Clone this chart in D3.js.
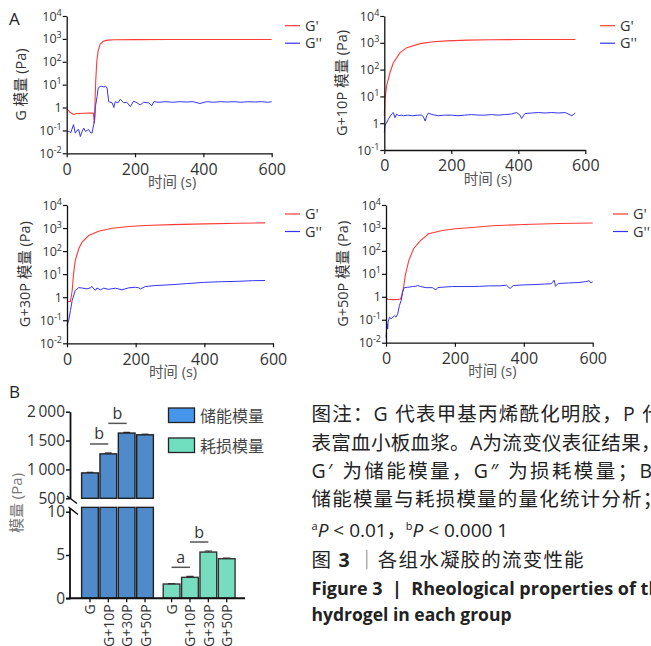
<!DOCTYPE html>
<html>
<head>
<meta charset="utf-8">
<script src="https://cdn.jsdelivr.net/npm/d3@7"></script>
<style>
  body { margin: 0; background: #fff; }
  svg { display: block; }
  text { font-family: "Open Sans", "Noto Sans CJK SC", sans-serif; }
</style>
</head>
<body>
<svg id="fig" width="651" height="646"></svg>
<script>
// ---- 数据：流变时间扫描 (t 秒, 模量 Pa) ----
const gStorage = [[0,0.85],[5,0.75],[10,0.62],[20,0.5],[30,0.55],[50,0.56],[70,0.57],[78,0.57],[81,0.2],[83,2],[85,15],[88,100],[92,300],[98,600],[108,800],[120,880],[140,920],[200,930],[300,940],[400,940],[500,940],[600,940]];
const gLoss = [[0,0.09],[6,0.09],[12,0.08],[20,0.18],[25,0.076],[30,0.1],[35,0.11],[40,0.054],[45,0.09],[50,0.126],[55,0.09],[60,0.1],[64,0.11],[70,0.08],[74,0.076],[79,0.18],[82,0.3],[84,1.1],[89,3],[92,7],[98,8.3],[103,8.5],[108,8],[113,8.3],[118,7.5],[123,1.8],[133,1.6],[138,1.0],[142,1.8],[150,1.6],[157,2.3],[167,1.6],[176,1.7],[186,1.1],[196,1.9],[206,1.6],[215,1.3],[225,1.7],[240,1.6],[249,1.2],[255,1.8],[270,1.7],[290,1.8],[310,1.7],[330,1.8],[350,1.75],[370,1.8],[390,1.5],[410,1.8],[430,1.7],[450,1.8],[470,1.75],[490,1.8],[510,1.7],[530,1.8],[550,1.75],[570,1.8],[590,1.7],[600,1.8]];

const g10Storage = [[0,1.9],[2,8],[7,25],[17,78],[27,180],[47,430],[67,660],[107,930],[146,1100],[186,1180],[250,1260],[315,1300],[400,1320],[500,1330],[570,1330]];
const g10Loss = [[0,0.45],[2,0.8],[12,1.4],[22,2.2],[27,2.5],[32,1.6],[37,2.2],[42,1.9],[52,2.0],[57,1.9],[70,2.0],[85,1.9],[100,2.0],[112,2.0],[117,1.7],[122,1.2],[127,1.9],[132,2.4],[142,2.1],[162,1.9],[180,2.0],[200,2.0],[220,1.9],[240,2.0],[260,2.1],[280,2.0],[300,2.0],[320,2.1],[340,2.0],[360,2.1],[380,2.2],[395,2.5],[405,2.0],[410,1.5],[420,2.3],[440,2.4],[460,2.5],[480,2.4],[500,2.5],[520,2.4],[540,2.5],[560,1.9],[570,2.4]];

const g30Storage = [[2,0.65],[10,0.65],[15,1.9],[19,10],[24,39],[34,126],[44,245],[63,475],[92,730],[131,980],[180,1170],[228,1290],[306,1410],[400,1520],[500,1620],[577,1680]];
const g30Loss = [[0,0.06],[5,0.1],[10,0.26],[15,0.72],[24,1.95],[34,2.6],[44,2.5],[58,2.3],[68,2.55],[73,2.9],[78,2.3],[83,2.0],[87,2.5],[97,2.1],[107,2.45],[121,2.2],[141,2.45],[160,2.1],[180,2.55],[199,2.7],[209,2.55],[214,2.3],[228,2.9],[257,3.2],[306,3.5],[350,3.9],[400,4.4],[450,4.7],[500,4.9],[540,5.2],[577,5.3]];

const g50Storage = [[0,0.95],[5,0.78],[20,0.75],[35,0.77],[42,0.8],[46,1.14],[51,2.6],[56,8.5],[66,38],[80,124],[100,280],[124,555],[163,780],[201,920],[259,1080],[308,1240],[400,1420],[500,1560],[600,1650]];
const g50Loss = [[0,0.017],[3,0.066],[5,0.04],[6,0.08],[8,0.1],[10,0.13],[15,0.11],[20,0.13],[25,0.15],[29,0.13],[34,0.18],[39,0.42],[44,0.69],[48,1.6],[53,2.5],[63,2.6],[77,2.8],[87,2.9],[92,3.1],[101,2.8],[116,2.5],[135,2.5],[145,2.0],[150,2.5],[160,2.6],[193,2.8],[232,2.8],[271,2.85],[300,3.0],[330,3.0],[350,3.2],[360,2.3],[370,3.1],[400,3.3],[430,3.4],[460,3.6],[480,3.7],[488,5.3],[492,2.9],[500,3.8],[530,4.0],[560,4.2],[580,4.6],[590,5.0],[595,4.0],[600,4.5]];

const timeTicks = [0, 200, 400, 600];
const legendNames = ["G'", "G''"];

// ---- 数据：B 图柱状统计 ----
const groups = ["G", "G+10P", "G+30P", "G+50P"];
const storageMod = [940, 1270, 1630, 1600];
const storageErr = [10, 15, 12, 10];
const lossMod = [1.65, 2.42, 5.34, 4.57];
const lossErr = [0.05, 0.12, 0.12, 0.08];
const upperTicks = [500, 1000, 1500, 2000];
const lowerTicks = [0, 5, 10];
const storageSig = [["G", "G+10P", "b"], ["G+10P", "G+30P", "b"]];
const lossSig = [["G", "G+10P", "a"], ["G+10P", "G+30P", "b"]];

const svg = d3.select("#fig");
svg.append("rect").attr("width", 651).attr("height", 646).attr("fill", "#fff");

// 面板标签
svg.append("text").attr("x", 9).attr("y", 25).attr("font-size", 17).attr("fill", "#222").text("A");
svg.append("text").attr("x", 9).attr("y", 398).attr("font-size", 17).attr("fill", "#222").text("B");

// ---- A 图：四个流变曲线 ----
const panels = [
  { name: "G", gp: gStorage, gpp: gLoss, x: [66.7, 271.7], y: [153.3, 16], low: -2, titleDx: 46, legX: 285, legY: 25.7 },
  { name: "G+10P", gp: g10Storage, gpp: g10Loss, x: [384.3, 585.3], y: [150, 16], low: -1, titleDx: 43, legX: 600, legY: 25.7 },
  { name: "G+30P", gp: g30Storage, gpp: g30Loss, x: [67, 273], y: [343.3, 205], low: -2, titleDx: 43, legX: 285, legY: 214 },
  { name: "G+50P", gp: g50Storage, gpp: g50Loss, x: [386, 592.7], y: [342.7, 205], low: -2, titleDx: 44, legX: 613, legY: 214 }
];

function logLabel(sel) {
  sel.each(function(d) {
    const t = d3.select(this).text("");
    const e = Math.round(Math.log10(d));
    if (e === 0) { t.text("1"); return; }
    t.append("tspan").text("10");
    t.append("tspan").attr("dy", "-0.55em").attr("font-size", "0.72em").text(e);
  });
}

panels.forEach(p => {
  const x = d3.scaleLinear().domain([0, 600]).range(p.x);
  const y = d3.scaleLog().domain([Math.pow(10, p.low), 1e4]).range(p.y);
  const g = svg.append("g");

  const yTicks = d3.range(p.low, 5).map(e => Math.pow(10, e));

  const line = d3.line().x(d => x(d[0])).y(d => y(d[1]));
  g.append("path").datum(p.gp).attr("d", line)
    .attr("fill", "none").attr("stroke", "#ff3a3a").attr("stroke-width", 1.1);
  g.append("path").datum(p.gpp).attr("d", line)
    .attr("fill", "none").attr("stroke", "#3535f5").attr("stroke-width", 1);

  const ax = g.append("g").attr("transform", `translate(0,${p.y[0]})`)
    .call(d3.axisBottom(x).tickValues(timeTicks).tickSize(4).tickSizeOuter(0));
  ax.selectAll("text").attr("font-size", 16).attr("fill", "#333").attr("dy", "0.9em");

  const ay = g.append("g").attr("transform", `translate(${p.x[0]},0)`)
    .call(d3.axisLeft(y).tickValues(yTicks).tickSize(4).tickSizeOuter(0));
  ay.selectAll("text").attr("font-size", 12.5).attr("fill", "#333").attr("x", -5).call(logLabel);

  [ax, ay].forEach(a => {
    a.select(".domain").attr("stroke", "#111").attr("stroke-width", 1.3);
    a.selectAll(".tick line").attr("stroke", "#111").attr("stroke-width", 1.2);
  });

  // 轴标题
  g.append("text")
    .attr("x", (p.x[0] + p.x[1]) / 2 + 3).attr("y", p.y[0] + 33.5)
    .attr("text-anchor", "middle").attr("font-size", 14.5).attr("fill", "#555")
    .text("时间 (s)");
  g.append("text")
    .attr("transform", `translate(${p.x[0] - p.titleDx},${(p.y[0] + p.y[1]) / 2}) rotate(-90)`)
    .attr("text-anchor", "middle").attr("dominant-baseline", "central")
    .attr("font-size", 14.5).attr("fill", "#333")
    .text(p.name + " 模量 (Pa)");

  // 图例
  [["#ff3a3a", legendNames[0]], ["#3535f5", legendNames[1]]].forEach((l, i) => {
    const ly = p.legY + i * 17.5;
    g.append("line").attr("x1", p.legX).attr("x2", p.legX + 15).attr("y1", ly).attr("y2", ly)
      .attr("stroke", l[0]).attr("stroke-width", 1.2);
    g.append("text").attr("x", p.legX + 20).attr("y", ly + 5)
      .attr("font-size", 14.5).attr("fill", "#333").text(l[1]);
  });
});

// ---- B 图：断轴柱状图 ----
const axisX = 70;
const yUp = d3.scaleLinear().domain([500, 2000]).range([498.3, 411.7]);
const yLow = d3.scaleLinear().domain([0, 10]).range([598.3, 511.7]);
const lowTop = 10.5;
const xStore = d3.scaleBand().domain(groups).range([80.8, 154.2]).paddingInner(0.09).paddingOuter(0.045);
const xLoss = d3.scaleBand().domain(groups).range([162.4, 235.9]).paddingInner(0.09).paddingOuter(0.045);

const gb = svg.append("g");
const storeFill = "#4f8bca";
const lossFill = "#78dcbf";

// 储能模量：下段 + 上段
gb.selectAll(".sLow").data(groups).enter().append("rect")
  .attr("x", d => xStore(d)).attr("width", xStore.bandwidth())
  .attr("y", yLow(lowTop)).attr("height", yLow(0) - yLow(lowTop))
  .attr("fill", storeFill).attr("stroke", "#222").attr("stroke-width", 1.4);
gb.selectAll(".sUp").data(groups).enter().append("rect")
  .attr("x", d => xStore(d)).attr("width", xStore.bandwidth())
  .attr("y", (d, i) => yUp(storageMod[i])).attr("height", (d, i) => yUp(500) - yUp(storageMod[i]))
  .attr("fill", storeFill).attr("stroke", "#222").attr("stroke-width", 1.4);
// 误差线
gb.selectAll(".sErr").data(groups).enter().append("line")
  .attr("x1", d => xStore(d) + xStore.bandwidth() * 0.3).attr("x2", d => xStore(d) + xStore.bandwidth() * 0.7)
  .attr("y1", (d, i) => yUp(storageMod[i] + storageErr[i])).attr("y2", (d, i) => yUp(storageMod[i] + storageErr[i]))
  .attr("stroke", "#222").attr("stroke-width", 1.2);

// 耗损模量
gb.selectAll(".lBar").data(groups).enter().append("rect")
  .attr("x", d => xLoss(d)).attr("width", xLoss.bandwidth())
  .attr("y", (d, i) => yLow(lossMod[i])).attr("height", (d, i) => yLow(0) - yLow(lossMod[i]))
  .attr("fill", lossFill).attr("stroke", "#333").attr("stroke-width", 1.4);
gb.selectAll(".lErr").data(groups).enter().append("path")
  .attr("d", (d, i) => {
    const c = xLoss(d) + xLoss.bandwidth() / 2, w = xLoss.bandwidth() * 0.22;
    const t = yLow(lossMod[i] + lossErr[i]), b = yLow(lossMod[i]);
    return `M${c},${b}V${t}M${c - w},${t}H${c + w}`;
  })
  .attr("fill", "none").attr("stroke", "#333").attr("stroke-width", 1.2);

// 显著性标记
function sigMarks(list, xs, tops) {
  list.forEach(s => {
    const i1 = groups.indexOf(s[0]), i2 = groups.indexOf(s[1]);
    const x1 = xs(s[0]) + xs.bandwidth() / 2, x2 = xs(s[1]) + xs.bandwidth() / 2;
    const yy = Math.min(tops[i1], tops[i2]) - 9;
    gb.append("line").attr("x1", x1).attr("x2", x2).attr("y1", yy).attr("y2", yy)
      .attr("stroke", "#555").attr("stroke-width", 1.5);
    gb.append("text").attr("x", (x1 + x2) / 2).attr("y", yy - 4.5)
      .attr("text-anchor", "middle").attr("font-size", 16).attr("fill", "#333").text(s[2]);
  });
}
sigMarks(storageSig, xStore, storageMod.map((v, i) => yUp(v + storageErr[i])));
sigMarks(lossSig, xLoss, lossMod.map((v, i) => yLow(v + lossErr[i])));

// 纵轴（断开）
const ayUp = gb.append("g").attr("transform", `translate(${axisX},0)`)
  .call(d3.axisLeft(yUp).tickValues(upperTicks).tickSize(4).tickSizeOuter(0)
    .tickFormat(d => d3.format(",")(d).replace(",", "\u2009")));
const ayLow = gb.append("g").attr("transform", `translate(${axisX},0)`)
  .call(d3.axisLeft(yLow).tickValues(lowerTicks).tickSize(4).tickSizeOuter(0));
ayLow.select(".domain").attr("d", `M-4,${yLow(0)}H0V${yLow(lowTop) + 1}`);
[ayUp, ayLow].forEach(a => {
  a.select(".domain").attr("stroke", "#111").attr("stroke-width", 1.8);
  a.selectAll(".tick line").attr("stroke", "#111").attr("stroke-width", 1.5);
  a.selectAll("text").attr("font-size", 15.5).attr("fill", "#333").attr("x", -5);
});
// 断轴斜线
gb.append("line").attr("x1", 67).attr("y1", 496).attr("x2", 77).attr("y2", 503.5).attr("stroke", "#111").attr("stroke-width", 1.5);
gb.append("line").attr("x1", 68.5).attr("y1", 507).attr("x2", 78).attr("y2", 514.5).attr("stroke", "#111").attr("stroke-width", 1.5);

// 横轴
gb.append("line").attr("x1", axisX - 1).attr("x2", 245).attr("y1", yLow(0)).attr("y2", yLow(0))
  .attr("stroke", "#111").attr("stroke-width", 2);
[[xStore], [xLoss]].forEach(([xs]) => {
  groups.forEach(gname => {
    const cx = xs(gname) + xs.bandwidth() / 2;
    gb.append("line").attr("x1", cx).attr("x2", cx).attr("y1", yLow(0)).attr("y2", yLow(0) + 4)
      .attr("stroke", "#111").attr("stroke-width", 1.3);
    gb.append("text")
      .attr("transform", `translate(${cx},${yLow(0) + 6}) rotate(-90)`)
      .attr("text-anchor", "end").attr("dominant-baseline", "central")
      .attr("font-size", 14).attr("fill", "#333").text(gname);
  });
});

gb.append("text")
  .attr("transform", "translate(16,503) rotate(-90)")
  .attr("text-anchor", "middle").attr("dominant-baseline", "central")
  .attr("font-size", 15).attr("fill", "#777").text("模量 (Pa)");

// B 图例
[["#4696ec", "储能模量"], ["#70dfc0", "耗损模量"]].forEach((l, i) => {
  const ly = 408 + i * 30;
  gb.append("rect").attr("x", 168.5).attr("y", ly).attr("width", 26).attr("height", 14.5)
    .attr("fill", l[0]).attr("stroke", "#222").attr("stroke-width", 1.3);
  gb.append("text").attr("x", 200).attr("y", ly + 13.5)
    .attr("font-size", 16).attr("fill", "#444").text(l[1]);
});

// ---- 图注 ----
const cap = svg.append("g").attr("fill", "#222");
const capX = 311.5;
const capLines = [
  ["图注：G 代表甲基丙烯酰化明胶，P 代", 420.5, 1.2],
  ["表富血小板血浆。A为流变仪表征结果，", 449.5, 0.3],
  ["G′ 为储能模量，G″ 为损耗模量；B 为", 478, 2.4],
  ["储能模量与耗损模量的量化统计分析；", 506, 1.2]
];
capLines.forEach(c => {
  cap.append("text").attr("x", capX).attr("y", c[1]).attr("font-size", 19.5)
    .attr("letter-spacing", c[2]).text(c[0]);
});
const pLine = cap.append("text").attr("x", capX).attr("y", 536.5).attr("font-size", 19);
pLine.append("tspan").attr("font-size", 11).attr("dy", -7).text("a");
pLine.append("tspan").attr("font-style", "italic").attr("dy", 7).text("P");
pLine.append("tspan").text(" < 0.01，");
pLine.append("tspan").attr("font-size", 11).attr("dy", -7).text("b");
pLine.append("tspan").attr("font-style", "italic").attr("dy", 7).text("P");
pLine.append("tspan").text(" < 0.000 1");

const fig = cap.append("text").attr("x", capX).attr("y", 566.5).attr("font-size", 19.5).attr("letter-spacing", 1.2);
fig.append("tspan").text("图 ");
fig.append("tspan").attr("font-weight", "bold").text("3");
fig.append("tspan").attr("fill", "#777").text(" ｜");
fig.append("tspan").text("各组水凝胶的流变性能");

cap.append("text").attr("x", capX).attr("y", 595).attr("font-size", 18).attr("font-weight", "bold")
  .attr("xml:space", "preserve").text("Figure 3  |  Rheological properties of the");
cap.append("text").attr("x", capX).attr("y", 620.5).attr("font-size", 17.5).attr("font-weight", "bold")
  .text("hydrogel in each group");
</script>
</body>
</html>
